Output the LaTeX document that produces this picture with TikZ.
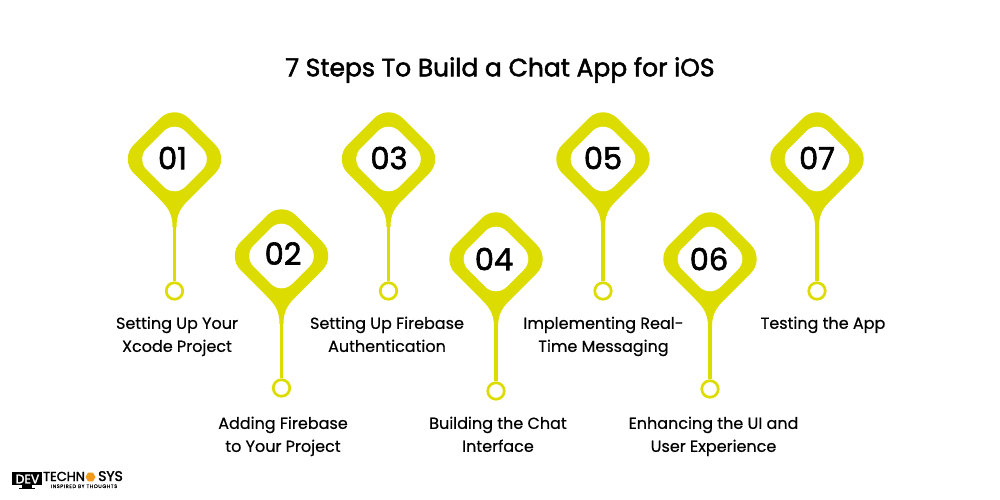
\documentclass[tikz,border=0pt]{standalone}
\usepackage{fontspec}
\setmainfont{Poppins}
\usepackage{xcolor}
\usetikzlibrary{shapes.geometric}
\newfontfamily\semifont{Poppins}[FakeBold=2]
\newfontfamily\medfont{Poppins}[FakeBold=0.5]
\newfontfamily\tagfont{Poppins}[FakeBold=0.8,LetterSpace=12]
\definecolor{pinlime}{HTML}{DCDC00}
\definecolor{logoorange}{HTML}{F39A1E}
\tikzset{
  pinhead/.pic={
    \fill[pinlime] (-2,68) .. controls (-2,54) and (-7,48) .. (-15,40)
      [rounded corners=20pt] -- (-55,0) -- (0,-55) -- (55,0)
      [sharp corners] -- (15,40) .. controls (7,48) and (2,54) .. (2,68) -- cycle;
    \fill[white,rounded corners=15pt] (-38.5,0) -- (0,-38.5) -- (38.5,0) -- (0,38.5) -- cycle;
  },
  stepnum/.style={font=\semifont\fontsize{30.5}{30.5}\selectfont,inner sep=0pt},
  steptext/.style={font=\medfont\fontsize{16}{23}\selectfont,align=center,inner sep=0pt,anchor=north,execute at begin node=\strut},
  endring/.style={circle,draw=pinlime,line width=2.7pt,fill=white,minimum size=16.5pt,inner sep=0pt},
  stem/.style={pinlime,line width=3.6pt},
}
\begin{document}
\begin{tikzpicture}[x=1pt,y=-1pt]
\useasboundingbox (0,0) rectangle (1000,500);
\node[font=\semifont\fontsize{25}{25}\selectfont,inner sep=0pt] (title) at (500,70) {7 Steps To Build a Chat App for iOS};
% top row
\coordinate (neck1) at (174.5,225);
\node[endring] (end1) at (174.5,291) {};
\draw[stem] (neck1) -- (end1);
\draw (174.5,159) pic{pinhead};
\node[stepnum] (num1) at (172.5,158) {01};
\node[steptext] (text1) at (177,316.5) {Setting Up Your\\Xcode Project};
\coordinate (neck3) at (388.5,225);
\node[endring] (end3) at (388.5,291) {};
\draw[stem] (neck3) -- (end3);
\draw (388.5,159) pic{pinhead};
\node[stepnum] (num3) at (389,158) {03};
\node[steptext] (text3) at (387,316.5) {Setting Up Firebase\\Authentication};
\coordinate (neck5) at (603,225);
\node[endring] (end5) at (603,291) {};
\draw[stem] (neck5) -- (end5);
\draw (603,159) pic{pinhead};
\node[stepnum] (num5) at (603,158) {05};
\node[steptext] (text5) at (603.5,316.5) {Implementing Real-\\Time Messaging};
\coordinate (neck7) at (817,225);
\node[endring] (end7) at (817,291) {};
\draw[stem] (neck7) -- (end7);
\draw (817,159) pic{pinhead};
\node[stepnum] (num7) at (817,158) {07};
\node[steptext] (text7) at (823,312.5) {Testing the App};
% bottom row
\coordinate (neck2) at (281.5,322);
\node[endring] (end2) at (281.5,388) {};
\draw[stem] (neck2) -- (end2);
\draw (281.5,256) pic{pinhead};
\node[stepnum] (num2) at (283,253.5) {02};
\node[steptext] (text2) at (283,416.5) {Adding Firebase\\to Your Project};
\coordinate (neck4) at (496,325);
\node[endring] (end4) at (496,391) {};
\draw[stem] (neck4) -- (end4);
\draw (496,259) pic{pinhead};
\node[stepnum] (num4) at (494,259) {04};
\node[steptext] (text4) at (498,416.5) {Building the Chat\\Interface};
\coordinate (neck6) at (710,323);
\node[endring] (end6) at (710,389) {};
\draw[stem] (neck6) -- (end6);
\draw (710,259) pic{pinhead};
\node[stepnum] (num6) at (709,259) {06};
\node[steptext] (text6) at (713.5,416.5) {Enhancing the UI and\\User Experience};
% logo
\fill[black] (12,472) rectangle (42,485);
\fill[black] (22,485) rectangle (32,488);
\fill[black] (19,488) rectangle (35,489);
\node[white,font=\semifont\fontsize{12.5}{12.5}\selectfont,inner sep=0pt] (logodev) at (27.5,479) {DEV};
\node[font=\semifont\fontsize{13}{10}\selectfont,inner sep=0pt,text height=9pt,text depth=0pt] (logotech) at (64,476.5) {TECHN};
\node[logoorange,regular polygon,regular polygon sides=6,fill,minimum size=10pt,inner sep=0pt] (logohex) at (90.5,477) {};
\node[font=\semifont\fontsize{14}{10}\selectfont,inner sep=0pt,text height=9pt,text depth=0pt] (logosys) at (110.5,476.5) {SYS};
\node[font=\tagfont\fontsize{5}{5}\selectfont,inner sep=0pt,text height=3pt,text depth=0pt] (logotag) at (84,486.5) {INSPIRED BY THOUGHTS};
\end{tikzpicture}
\end{document}
